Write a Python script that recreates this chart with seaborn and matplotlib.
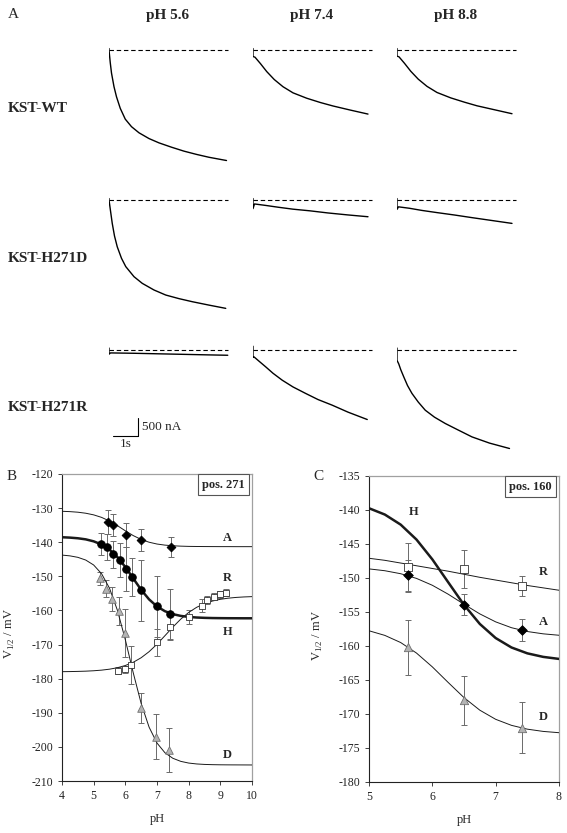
"""
Figure: KST currents (A) and V1/2 vs pH (B, C).
"""
import matplotlib
matplotlib.use("Agg")
import matplotlib.pyplot as plt
import seaborn as sns

sns.set_style("white")
plt.rcParams["font.family"] = ["Liberation Serif", "DejaVu Serif"]
plt.rcParams["axes.unicode_minus"] = False
plt.rcParams["mathtext.fontset"] = "custom"
plt.rcParams["mathtext.rm"] = "Liberation Serif"

# ══════════════════════════════════════════
# DATA — panel A (time in s, current in nA)
# ══════════════════════════════════════════
PH_COLS = ["pH 5.6", "pH 7.4", "pH 8.8"]
CONSTRUCTS = ["KST-WT", "KST-H271D", "KST-H271R"]

wt_56_t = [0, 0, 0.05, 0.1, 0.2, 0.3, 0.45, 0.65, 0.9, 1.2, 1.6, 2.0, 2.5, 3.0, 3.5, 4.0, 4.7]
wt_56_i = [40, 0, -350, -640, -1020, -1300, -1620, -1920, -2130, -2300, -2460, -2580, -2700, -2810, -2900, -2980, -3070]
wt_74_t = [0, 0, 0.08, 0.3, 0.55, 0.85, 1.2, 1.6, 2.15, 2.7, 3.2, 3.9, 4.6]
wt_74_i = [40, -180, -200, -380, -600, -820, -1020, -1190, -1340, -1460, -1555, -1670, -1780]
wt_88_t = [0, 0, 0.08, 0.3, 0.55, 0.85, 1.2, 1.6, 2.15, 2.7, 3.2, 3.9, 4.6]
wt_88_i = [40, -170, -190, -370, -590, -810, -1010, -1180, -1330, -1450, -1550, -1660, -1770]

d_56_t = [0, 0, 0.05, 0.13, 0.22, 0.33, 0.5, 0.67, 1.0, 1.33, 1.8, 2.27, 2.8, 3.33, 4.0, 4.67]
d_56_i = [40, 0, -250, -650, -1000, -1300, -1620, -1850, -2130, -2315, -2500, -2640, -2740, -2825, -2920, -3010]
d_74_t = [0, 0, 0.06, 0.5, 1.0, 1.6, 2.27, 3.0, 3.8, 4.6]
d_74_i = [40, -240, -110, -150, -200, -255, -300, -360, -415, -465]
d_88_t = [0, 0, 0.06, 0.5, 1.0, 1.6, 2.3, 3.0, 3.8, 4.6]
d_88_i = [40, -260, -190, -230, -290, -350, -417, -490, -570, -650]

r_56_t = [0, 0, 0.06, 1.0, 2.0, 3.0, 4.0, 4.75]
r_56_i = [40, -130, -95, -105, -120, -135, -150, -160]
r_74_t = [0, 0, 0.04, 0.25, 0.51, 0.8, 1.17, 1.6, 2.11, 2.6, 3.17, 3.8, 4.57]
r_74_i = [90, -220, -205, -330, -483, -660, -853, -1040, -1222, -1390, -1547, -1740, -1945]
r_88_t = [0, 0, 0.07, 0.15, 0.27, 0.42, 0.6, 0.85, 1.13, 1.5, 1.93, 2.4, 3.0, 3.7, 4.5]
r_88_i = [40, -300, -400, -560, -760, -1000, -1222, -1460, -1686, -1880, -2055, -2220, -2428, -2600, -2750]

BASELINE_S = 4.75
SCALE_S, SCALE_NA = 1.0, 500

# ══════════════════════════════════════════
# DATA — panel B (pos. 271)
# ══════════════════════════════════════════
b_a_ph = [5.44, 5.62, 6.02, 6.50, 7.43]
b_a_v = [-134.0, -135.0, -137.9, -139.4, -141.4]
b_a_err = [3.5, 3.2, 3.5, 3.2, 3.0]

b_h_ph = [5.22, 5.42, 5.61, 5.82, 6.02, 6.20, 6.50, 6.99, 7.41]
b_h_v = [-140.5, -141.4, -143.5, -145.1, -147.9, -150.2, -154.1, -158.8, -161.1]
b_h_err = [3.3, 3.8, 4.0, 5.0, 6.5, 5.5, 9.0, 9.0, 7.5]

b_d_ph = [5.20, 5.40, 5.59, 5.80, 5.99, 6.49, 6.97, 7.38]
b_d_v = [-150.6, -153.7, -156.7, -160.2, -166.7, -188.5, -197.0, -200.9]
b_d_err = [2.0, 2.5, 3.5, 4.0, 7.0, 4.4, 6.6, 6.4]

b_r_ph = [5.78, 5.98, 6.18, 6.99, 7.41, 8.01, 8.41, 8.58, 8.79, 8.98, 9.19]
b_r_v = [-177.7, -177.3, -176.0, -169.3, -164.8, -162.0, -158.6, -157.0, -156.0, -155.3, -154.8]
b_r_err = [1.0, 1.0, 5.5, 4.0, 3.5, 2.0, 2.0, 1.2, 1.0, 1.0, 1.0]

# fitted curves, read on a 0.25 pH grid
fit_ph_b = [4.0, 4.25, 4.5, 4.75, 5.0, 5.25, 5.5, 5.75, 6.0, 6.25, 6.5, 6.75, 7.0,
            7.25, 7.5, 7.75, 8.0, 8.25, 8.5, 8.75, 9.0, 9.25, 9.5, 9.75, 10.0]
fit_b_a = [-130.93, -131.03, -131.2, -131.5, -131.98, -132.72, -133.79, -135.15, -136.65,
           -138.06, -139.19, -140.0, -140.53, -140.85, -141.04, -141.15, -141.22, -141.25,
           -141.27, -141.28, -141.29, -141.29, -141.3, -141.3, -141.3]
fit_b_h = [-138.54, -138.65, -138.84, -139.16, -139.74, -140.67, -142.15, -144.35, -147.26,
           -150.62, -153.95, -156.76, -158.83, -160.22, -161.08, -161.6, -161.9, -162.07,
           -162.17, -162.23, -162.26, -162.28, -162.29, -162.3, -162.3]
fit_b_d = [-143.77, -144.0, -144.43, -145.23, -146.68, -149.24, -153.49, -159.96, -168.6,
           -178.29, -187.27, -194.21, -198.87, -201.71, -203.34, -204.24, -204.74, -205.0,
           -205.14, -205.21, -205.25, -205.27, -205.28, -205.29, -205.3]
fit_b_r = [-177.95, -177.92, -177.87, -177.8, -177.68, -177.5, -177.22, -176.79, -176.14,
           -175.2, -173.86, -172.09, -169.89, -167.41, -164.88, -162.55, -160.59, -159.09,
           -158.0, -157.24, -156.73, -156.4, -156.18, -156.04, -155.95]

# ══════════════════════════════════════════
# DATA — panel C (pos. 160)
# ══════════════════════════════════════════
c_ph = [5.61, 6.50, 7.41]
c_r_v = [-148.4, -148.7, -151.2]
c_r_err = [3.6, 2.8, 1.5]
c_a_v = [-149.6, -153.9, -157.7]
c_a_err = [2.3, 1.5, 1.6]
c_d_v = [-160.2, -168.0, -172.0]
c_d_err = [4.0, 3.6, 3.7]

fit_ph_c = [5.0, 5.25, 5.5, 5.75, 6.0, 6.25, 6.5, 6.75, 7.0, 7.25, 7.5, 7.75, 8.0]
fit_c_h = [-139.74, -140.67, -142.15, -144.35, -147.26, -150.62, -153.95, -156.76,
           -158.83, -160.22, -161.08, -161.6, -161.9]
fit_c_r = [-147.1, -147.4, -147.8, -148.2, -148.6, -149.0, -149.45, -149.9, -150.3,
           -150.7, -151.1, -151.45, -151.8]
fit_c_a = [-148.66, -148.93, -149.37, -150.06, -151.07, -152.38, -153.86, -155.28,
           -156.45, -157.31, -157.87, -158.21, -158.42]
fit_c_d = [-157.76, -158.44, -159.49, -161.04, -163.07, -165.36, -167.59, -169.44,
           -170.78, -171.67, -172.23, -172.56, -172.75]

# ══════════════════════════════════════════
# LAYOUT (pixels)
# ══════════════════════════════════════════
W, H = 567, 833
fig = plt.figure(figsize=(W / 100, H / 100), dpi=100)


def px_axes(left, top, width, height):
    return fig.add_axes([left / W, 1 - (top + height) / H, width / W, height / H])


PX_PER_S = 25.0
PX_PER_NA = 18.0 / 500
COL_LEFT = [109, 253, 397]
ROW_BASE = [50, 200, 349.5]
CELL_W, CELL_H, CELL_TOP = 125, 150, 10

TRACES = {
    (0, 0): (wt_56_t, wt_56_i), (0, 1): (wt_74_t, wt_74_i), (0, 2): (wt_88_t, wt_88_i),
    (1, 0): (d_56_t, d_56_i), (1, 1): (d_74_t, d_74_i), (1, 2): (d_88_t, d_88_i),
    (2, 0): (r_56_t, r_56_i), (2, 1): (r_74_t, r_74_i), (2, 2): (r_88_t, r_88_i),
}

# ══════════════════════════════════════════
# PANEL A
# ══════════════════════════════════════════
cells = {}
for (r, c), (t, cur) in TRACES.items():
    ax = px_axes(COL_LEFT[c], ROW_BASE[r] - CELL_TOP, CELL_W, CELL_H)
    ax.set_xlim(0, CELL_W / PX_PER_S)
    ax.set_ylim(-(CELL_H - CELL_TOP) / PX_PER_NA, CELL_TOP / PX_PER_NA)
    ax.axhline(0, xmin=0, xmax=BASELINE_S / (CELL_W / PX_PER_S),
               color="k", lw=0.8, ls=(0, (4, 2.5)))
    sns.lineplot(x=t, y=cur, ax=ax, color="k", lw=1.0, estimator=None, sort=False)
    ax.axis("off")
    cells[(r, c)] = ax

for c, lab in enumerate(PH_COLS):
    fig.text((COL_LEFT[c] + 59) / W, 1 - 15 / H, lab, ha="center", va="center",
             fontsize=11, fontweight="bold")
for r, lab in enumerate(CONSTRUCTS):
    fig.text(8 / W, 1 - (ROW_BASE[r] + 58) / H, lab, ha="left", va="center",
             fontsize=11.1, fontweight="bold")
fig.text(13 / W, 1 - 14 / H, "A", ha="center", va="center", fontsize=11)

# scale bar (in the KST-H271R / pH 5.6 cell)
ax = cells[(2, 0)]
x0, y0 = 0.15, -2390
ax.plot([x0, x0 + SCALE_S], [y0, y0], color="k", lw=0.8)
ax.plot([x0 + SCALE_S, x0 + SCALE_S], [y0, y0 + SCALE_NA], color="k", lw=0.8)
ax.text(x0 + SCALE_S + 0.18, y0 + SCALE_NA / 2, f"{SCALE_NA} nA", ha="left",
        va="center", fontsize=9.5)
ax.text(x0 + SCALE_S / 2, y0 - 80, f"{SCALE_S:g}s", ha="center", va="top", fontsize=9.5)

# ══════════════════════════════════════════
# PANELS B, C
# ══════════════════════════════════════════
ERR_KW = dict(fmt="none", ecolor="#6a6a6a", elinewidth=0.7, capsize=2.2, capthick=0.7, zorder=2)


def style_axes(ax):
    for side in ("top", "right"):
        ax.spines[side].set_color("#a0a0a0")
        ax.spines[side].set_linewidth(0.9)
    for side in ("left", "bottom"):
        ax.spines[side].set_color("#222222")
        ax.spines[side].set_linewidth(0.8)
    ax.tick_params(direction="out", length=3, width=0.6, labelsize=8.5,
                   left=True, bottom=True, colors="#222222")


def series(ax, ph, v, err, marker, s, fc, ec):
    ax.errorbar(ph, v, yerr=err, **ERR_KW)
    sns.scatterplot(x=ph, y=v, ax=ax, marker=marker, s=s, color=fc,
                    edgecolor=ec, linewidth=0.6, zorder=4)


def fit(ax, ph, v, lw=0.7):
    sns.lineplot(x=ph, y=v, ax=ax, color="#1a1a1a", lw=lw, estimator=None, sort=False, zorder=3)


# --- B
axb = px_axes(62, 474, 190, 307)
fit(axb, fit_ph_b, fit_b_a)
fit(axb, fit_ph_b, fit_b_r)
fit(axb, fit_ph_b, fit_b_d)
fit(axb, fit_ph_b, fit_b_h, lw=1.8)
series(axb, b_r_ph, b_r_v, b_r_err, "s", 22, "white", "#333333")
series(axb, b_d_ph, b_d_v, b_d_err, "^", 30, "#b4b4b4", "#707070")
series(axb, b_h_ph, b_h_v, b_h_err, "o", 30, "black", "black")
series(axb, b_a_ph, b_a_v, b_a_err, "D", 20, "black", "black")
axb.set_xlim(4, 10)
axb.set_ylim(-210, -120)
axb.set_xticks(range(4, 11))
axb.set_yticks(range(-120, -211, -10))
style_axes(axb)
for lab, x, y in [("A", 9.23, -138.9), ("R", 9.23, -150.6), ("H", 9.23, -166.2), ("D", 9.23, -202.3)]:
    axb.text(x, y, lab, ha="center", va="center", fontsize=9, fontweight="bold")
axb.text(0.85, 0.965, "pos. 271", transform=axb.transAxes, ha="center", va="center",
         fontsize=9, fontweight="bold",
         bbox=dict(boxstyle="square,pad=0.35", fc="white", ec="#555555", lw=0.8))
axb.set_xlabel("pH", fontsize=9)
axb.set_ylabel("V$_{\\mathrm{1/2}}$ / mV", fontsize=9)
axb.xaxis.set_label_coords(0.5, -0.105)
axb.yaxis.set_label_coords(-0.237, 0.48)
fig.text(12 / W, 1 - 476 / H, "B", ha="center", va="center", fontsize=11)

# --- C
axc = px_axes(369, 476, 190, 306)
fit(axc, fit_ph_c, fit_c_r)
fit(axc, fit_ph_c, fit_c_a)
fit(axc, fit_ph_c, fit_c_d)
fit(axc, fit_ph_c, fit_c_h, lw=1.8)
series(axc, c_ph, c_r_v, c_r_err, "s", 28, "white", "#333333")
series(axc, c_ph, c_d_v, c_d_err, "^", 36, "#b4b4b4", "#707070")
series(axc, c_ph, c_a_v, c_a_err, "D", 24, "black", "black")
axc.set_xlim(5, 8)
axc.set_ylim(-180, -135)
axc.set_xticks(range(5, 9))
axc.set_yticks(range(-135, -181, -5))
style_axes(axc)
for lab, x, y in [("H", 5.70, -140.25), ("R", 7.75, -149.1), ("A", 7.75, -156.4), ("D", 7.75, -170.4)]:
    axc.text(x, y, lab, ha="center", va="center", fontsize=9, fontweight="bold")
axc.text(0.85, 0.965, "pos. 160", transform=axc.transAxes, ha="center", va="center",
         fontsize=9, fontweight="bold",
         bbox=dict(boxstyle="square,pad=0.35", fc="white", ec="#555555", lw=0.8))
axc.set_xlabel("pH", fontsize=9)
axc.set_ylabel("V$_{\\mathrm{1/2}}$ / mV", fontsize=9)
axc.xaxis.set_label_coords(0.5, -0.105)
axc.yaxis.set_label_coords(-0.232, 0.48)
fig.text(318 / W, 1 - 476 / H, "C", ha="center", va="center", fontsize=11)

fig.savefig("out.png", dpi=100)
